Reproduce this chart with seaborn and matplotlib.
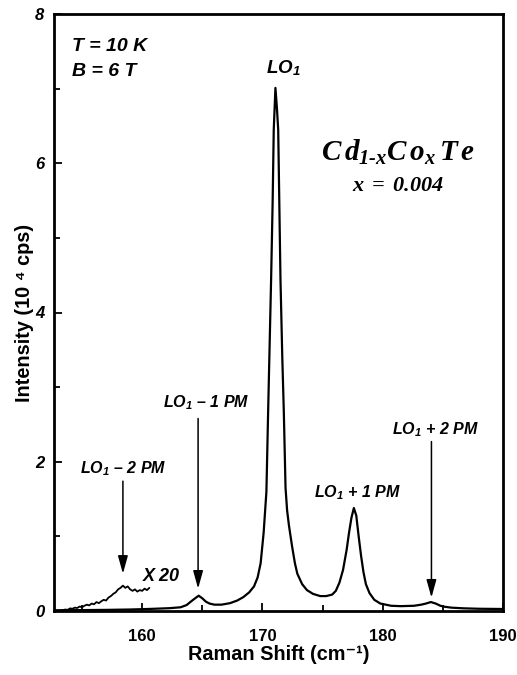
import matplotlib
matplotlib.use("Agg")
import matplotlib.pyplot as plt
import seaborn as sns
import pandas as pd

# ---- data ----
main_x = [152.7, 155.0, 157.0, 159.0, 160.5, 161.5, 162.3, 163.2, 163.7, 164.0,
          164.4, 164.7, 165.0, 165.3, 165.6, 166.0, 166.6, 167.3, 167.9, 168.4,
          168.9, 169.3, 169.6, 169.85, 170.1, 170.33, 170.47, 170.72, 170.85, 170.94,
          171.08, 171.2, 171.31, 171.5, 171.65, 171.78, 171.92, 172.05, 172.2, 172.47,
          172.7, 172.9, 173.3, 173.7, 174.2, 174.8, 175.3, 175.8, 176.1, 176.4,
          176.7, 177.0, 177.2, 177.4, 177.6, 177.8, 178.0, 178.2, 178.4, 178.6,
          178.9, 179.3, 179.8, 180.7, 181.5, 182.6, 183.2, 183.6, 184.0, 184.4,
          184.8, 185.1, 185.7, 186.7, 188.0, 189.9]
main_y = [0.010, 0.012, 0.015, 0.020, 0.027, 0.033, 0.038, 0.050, 0.080, 0.120,
          0.170, 0.205, 0.170, 0.125, 0.100, 0.085, 0.085, 0.105, 0.140, 0.185,
          0.250, 0.330, 0.450, 0.640, 1.050, 1.600, 2.650, 4.440, 5.500, 6.450,
          7.010, 6.750, 6.450, 4.440, 3.400, 2.650, 1.650, 1.350, 1.150, 0.860,
          0.640, 0.500, 0.360, 0.280, 0.230, 0.200, 0.200, 0.220, 0.270, 0.380,
          0.550, 0.820, 1.050, 1.250, 1.380, 1.280, 1.000, 0.740, 0.520, 0.360,
          0.240, 0.150, 0.100, 0.070, 0.065, 0.070, 0.085, 0.100, 0.120, 0.100,
          0.070, 0.058, 0.045, 0.036, 0.030, 0.027]

x20_x = [153.2, 153.4, 153.6, 153.8, 154.0, 154.2, 154.4, 154.6, 154.8, 155.0,
         155.2, 155.4, 155.6, 155.8, 156.0, 156.2, 156.4, 156.6, 156.8, 157.0,
         157.2, 157.4, 157.6, 157.8, 158.0, 158.2, 158.4, 158.6, 158.8, 159.0,
         159.2, 159.4, 159.6, 159.8, 160.0, 160.2, 160.4, 160.6]
x20_y = [0.005, 0.010, 0.020, 0.015, 0.035, 0.030, 0.045, 0.040, 0.060, 0.050,
         0.070, 0.085, 0.075, 0.100, 0.090, 0.120, 0.105, 0.130, 0.150, 0.140,
         0.180, 0.200, 0.230, 0.250, 0.290, 0.310, 0.340, 0.310, 0.330, 0.290,
         0.270, 0.290, 0.260, 0.280, 0.270, 0.300, 0.280, 0.310]

x_major = [160, 170, 180, 190]
x_minor = [155, 165, 175, 185]
y_major = [0, 2, 4, 6, 8]
y_minor = [1, 3, 5, 7]

LO1 = r"$\mathsf{LO}_{\mathsf{1}}$"
arrow_labels = [LO1 + " \u2013 2 PM", LO1 + " \u2013 1 PM", LO1 + " + 2 PM"]
arrow_text_x = [158.4, 165.3, 184.4]
arrow_text_y = [1.90, 2.79, 2.43]
arrow_x = [158.4, 164.65, 184.05]
arrow_top = [1.74, 2.58, 2.27]
arrow_tip = [0.50, 0.30, 0.18]

# ---- styling ----
sns.set_theme(style="white")
plt.rcParams["font.family"] = ["Liberation Sans", "DejaVu Sans"]
plt.rcParams["text.color"] = "black"
plt.rcParams["axes.labelcolor"] = "black"
plt.rcParams["xtick.color"] = "black"
plt.rcParams["ytick.color"] = "black"
plt.rcParams["mathtext.fontset"] = "custom"
plt.rcParams["mathtext.rm"] = "Liberation Serif:bold:italic"
plt.rcParams["mathtext.it"] = "Liberation Serif:bold:italic"
plt.rcParams["mathtext.bf"] = "Liberation Serif:bold:italic"
plt.rcParams["mathtext.sf"] = "Liberation Sans:bold:italic"
plt.rcParams["mathtext.default"] = "it"

fig = plt.figure(figsize=(5.17, 6.75), dpi=100)
ax = fig.add_axes([54 / 517, 1 - 611 / 675, (503 - 54) / 517, (611 - 14) / 675])

df_main = pd.DataFrame({"x": main_x, "y": main_y})
df_x20 = pd.DataFrame({"x": x20_x, "y": x20_y})
sns.lineplot(data=df_main, x="x", y="y", ax=ax, color="black", linewidth=1.6,
             estimator=None, sort=False)
sns.lineplot(data=df_x20, x="x", y="y", ax=ax, color="black", linewidth=1.3,
             estimator=None, sort=False)

ax.set_xlim(152.67, 190)
ax.set_ylim(0, 8)
ax.set_xticks(x_major)
ax.set_xticks(x_minor, minor=True)
ax.set_yticks(y_major)
ax.set_yticks(y_minor, minor=True)
ax.set_xticklabels([str(v) for v in x_major], fontsize=12, fontweight="bold")
ax.set_yticklabels([str(v) for v in y_major], fontsize=12, fontweight="bold",
                   fontstyle="italic")
ax.tick_params(which="major", direction="in", length=6, width=1.3, color="black",
               labelcolor="black")
ax.tick_params(which="minor", direction="in", length=4, width=1.3, color="black")
ax.tick_params(axis="x", which="major", pad=13)
ax.tick_params(axis="y", which="major", pad=7)
ax.tick_params(axis="x", which="both", bottom=True, top=False)
ax.tick_params(axis="y", which="both", left=True, right=False)
for s in ax.spines.values():
    s.set_linewidth(2)
    s.set_color("black")

ax.set_xlabel("Raman Shift (cm\u207b\u00b9)", fontsize=14.3, fontweight="bold",
              labelpad=1)
ax.set_ylabel("Intensity (10 \u2074 cps)", fontsize=14.3, fontweight="bold",
              labelpad=1)

sans = ["Liberation Sans", "DejaVu Sans"]
ax.text(154.2, 7.57, "T = 10 K", fontsize=14, fontweight="bold",
        fontstyle="italic", family=sans, va="center", ha="left")
ax.text(154.2, 7.23, "B = 6 T", fontsize=14, fontweight="bold",
        fontstyle="italic", family=sans, va="center", ha="left")
ax.text(171.75, 7.28, LO1, fontsize=13.5, va="center", ha="center")
ax.text(177.9, 1.58, LO1 + " + 1 PM", fontsize=11.5, fontweight="bold",
        fontstyle="italic", family=sans, va="center", ha="center")
ax.text(161.6, 0.46, "X 20", fontsize=13, fontweight="bold",
        fontstyle="italic", family=sans, va="center", ha="center")

for lab, tx, ty, axx, atop, atip in zip(arrow_labels, arrow_text_x, arrow_text_y,
                                        arrow_x, arrow_top, arrow_tip):
    ax.text(tx, ty, lab, fontsize=11.5, fontweight="bold", fontstyle="italic",
            family=sans, va="center", ha="center")
    ax.annotate("", xy=(axx, atip), xytext=(axx, atop),
                arrowprops=dict(arrowstyle="-|>,head_length=0.9,head_width=0.25",
                                color="black", lw=1.1, mutation_scale=12,
                                shrinkA=0, shrinkB=0))

ax.text(181.25, 6.15, r"$C\,d_{1\text{-}x}C\,o_{x}\,T\,e$", fontsize=21,
        va="center", ha="center")
ax.text(181.25, 5.70, r"$x\;=\;0.004$", fontsize=16, va="center", ha="center")

fig.savefig("out.png", dpi=100)
